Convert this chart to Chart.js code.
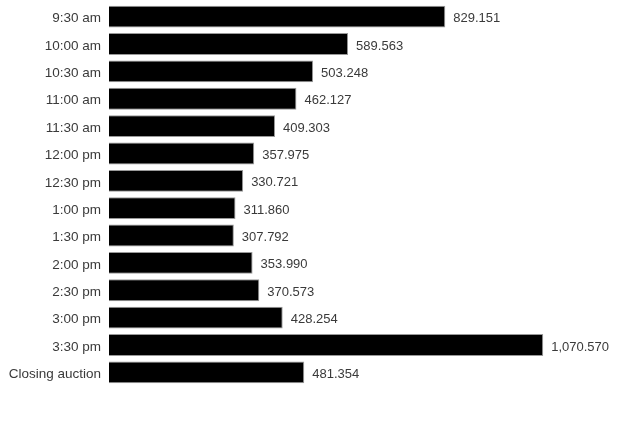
<!DOCTYPE html>
<html>
<head>
<meta charset="utf-8">
<script src="https://cdn.jsdelivr.net/npm/chart.js@4"></script>
<style>
  html, body { margin: 0; padding: 0; background: #fff; }
  #wrap { width: 631px; height: 425px; position: relative; }
</style>
</head>
<body>
<div id="wrap"><canvas id="volumeChart"></canvas></div>
<script>
// time buckets down the left side
const timeLabels = [
  "9:30 am", "10:00 am", "10:30 am", "11:00 am", "11:30 am",
  "12:00 pm", "12:30 pm", "1:00 pm", "1:30 pm", "2:00 pm",
  "2:30 pm", "3:00 pm", "3:30 pm", "Closing auction"
];
// value printed at the end of each bar
const volumes = [
  829.151, 589.563, 503.248, 462.127, 409.303,
  357.975, 330.721, 311.860, 307.792, 353.990,
  370.573, 428.254, 1070.570, 481.354
];
const axisMax = 1287;

function fmt(v) {
  return v.toLocaleString('en-US', { minimumFractionDigits: 3, maximumFractionDigits: 3 });
}

// draws the number right of each bar
const endLabels = {
  id: 'endLabels',
  afterDatasetsDraw(chart) {
    const ctx = chart.ctx;
    const meta = chart.getDatasetMeta(0);
    ctx.save();
    ctx.font = '13px "Liberation Sans", Arial, sans-serif';
    ctx.fillStyle = '#3a3a3a';
    ctx.textAlign = 'left';
    ctx.textBaseline = 'middle';
    meta.data.forEach((bar, i) => {
      ctx.fillText(fmt(volumes[i]), bar.x + 8, bar.y + 2);
    });
    ctx.restore();
  }
};

const ctx = document.getElementById('volumeChart').getContext('2d');
new Chart(ctx, {
  type: 'bar',
  data: {
    labels: timeLabels,
    datasets: [{
      data: volumes,
      backgroundColor: '#000',
      borderColor: '#999',
      borderWidth: 1,
      barPercentage: 0.8,
      categoryPercentage: 1.0
    }]
  },
  options: {
    indexAxis: 'y',
    responsive: true,
    maintainAspectRatio: false,
    animation: false,
    layout: { padding: { top: 3, bottom: 39, left: 0, right: 0 } },
    plugins: {
      legend: { display: false },
      tooltip: { enabled: false }
    },
    scales: {
      x: {
        display: false,
        min: 0,
        max: axisMax
      },
      y: {
        grid: { display: false, drawTicks: false },
        border: { display: false },
        ticks: {
          color: '#3a3a3a',
          padding: 8,
          labelOffset: 2,
          font: { family: '"Liberation Sans", Arial, sans-serif', size: 13.5 }
        },
        afterFit(scale) {
          scale.width = 109;
          scale.paddingTop = 0;
          scale.paddingBottom = 0;
        }
      }
    }
  },
  plugins: [endLabels]
});
</script>
</body>
</html>
